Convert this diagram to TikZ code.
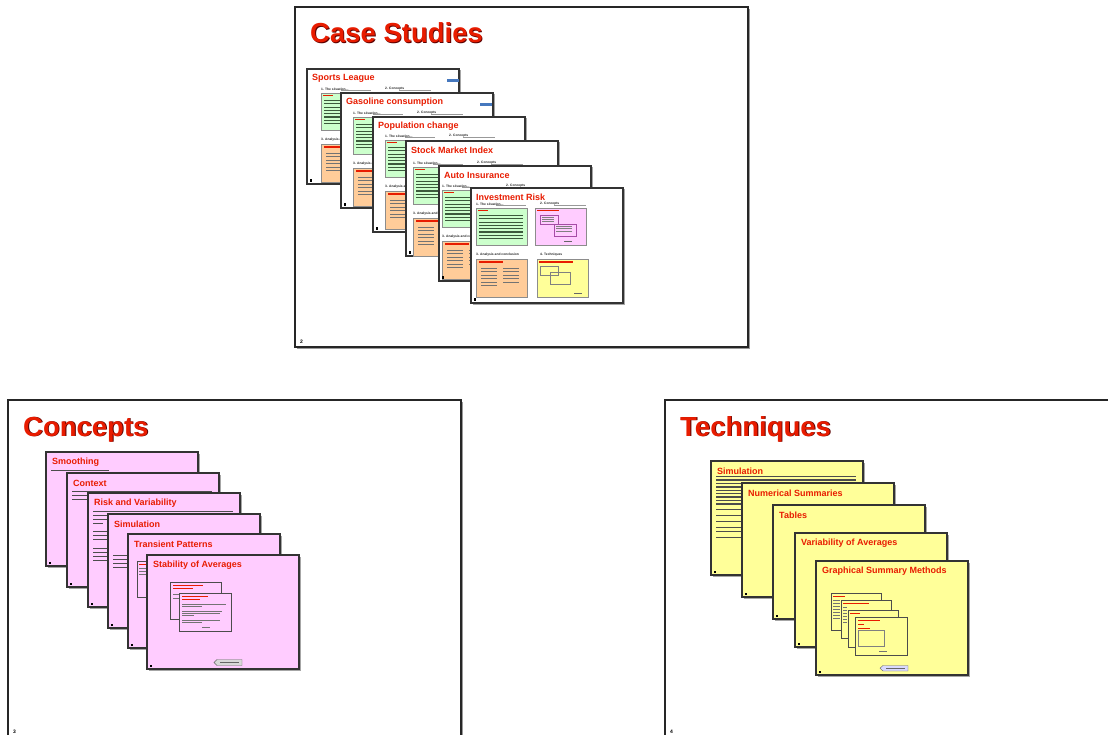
\documentclass[tikz,border=0pt]{standalone}
\usepackage{fontspec}
\setmainfont{Liberation Sans}
\definecolor{tred}{RGB}{232,28,0}
\definecolor{tshadow}{RGB}{90,0,0}
\definecolor{greenb}{RGB}{204,255,204}
\definecolor{pinkb}{RGB}{255,204,255}
\definecolor{orangeb}{RGB}{255,204,153}
\definecolor{yellowb}{RGB}{255,255,153}
\definecolor{blueb}{RGB}{70,120,190}
\definecolor{dgreen}{RGB}{60,90,60}
\tikzset{
  mainborder/.style={draw=black!85,line width=1.5pt},
  miniborder/.style={draw=black!80,line width=1.1pt},
  smallborder/.style={draw=black!70,line width=0.5pt},
  boxb/.style={draw=black!45,line width=0.4pt},
  maintitle/.style={anchor=base west,inner sep=0pt,text=tred,font=\fontsize{27.5}{30}\selectfont\bfseries},
  maintitleshadow/.style={anchor=base west,inner sep=0pt,text=tshadow,font=\fontsize{27.5}{30}\selectfont\bfseries},
  minititle/.style={anchor=west,inner sep=0pt,text=tred,font=\fontsize{9}{10}\selectfont\bfseries},
  lbl/.style={anchor=west,inner sep=0pt,text=black!85,font=\fontsize{3.3}{4}\selectfont\bfseries},
  numlbl/.style={anchor=base west,inner sep=0pt,font=\fontsize{5}{6}\selectfont\bfseries},
  txt/.style={fill=black!70},
}
\newcommand{\mainslide}[4]{%
  \fill[black!40] (#1+2,#2+2) rectangle ++(453,340);
  \draw[mainborder,fill=white] (#1,#2) rectangle ++(453,340);
  \node[maintitleshadow] (#4s) at (#1+15.9,#2+36.9) {#3};
  \node[maintitle] (#4) at (#1+15,#2+36) {#3};
}
\newcommand{\caseslide}[6]{%
 \begin{scope}[shift={(#1,#2)}]
  \fill[black!35] (1.5,1.5) rectangle (153.5,116.5);
  \draw[miniborder,fill=white] (0,0) rectangle (152,115);
  \node[minititle] (#4) at (5,9) {#3};
  \node[lbl] (#4a) at (#5,#6-4) {1. The situation...};
  \node[lbl] (#4b) at (#5+64,#6-4) {2. Concepts};
  \draw[black!40,line width=0.3pt] (#5+20,#6-3) -- (#5+50,#6-3);
  \draw[black!40,line width=0.3pt] (#5+78,#6-3) -- (#5+110,#6-3);
  % green
  \draw[boxb,fill=greenb] (#5,#6) rectangle ++(51,37);
  \fill[tred] (#5+2,#6+2.2) rectangle ++(10,1.3);
  \foreach \k in {0,...,7} \fill[dgreen] (#5+3,#6+7+\k*3.3) rectangle ++(44,1.2);
  % pink
  \draw[boxb,fill=pinkb] (#5+59,#6) rectangle ++(51,37);
  \fill[tred] (#5+61,#6+2.2) rectangle ++(22,1.3);
  \draw[draw=violet!70,line width=0.3pt] (#5+64,#6+7) rectangle ++(18,9);
  \draw[draw=violet!70,line width=0.3pt] (#5+78,#6+16) rectangle ++(22,12);
  \foreach \k in {0,1,2} \fill[black!50] (#5+66,#6+9+\k*2.2) rectangle ++(12,0.7);
  \foreach \k in {0,1,2} \fill[black!50] (#5+80,#6+18+\k*2.5) rectangle ++(16,0.7);
  \fill[black!60] (#5+88,#6+33) rectangle ++(8,1);
  % label lower left
  \node[lbl] (#4c) at (#5,#6+47) {3. Analysis and conclusion};
  % orange
  \draw[boxb,fill=orangeb] (#5,#6+51) rectangle ++(51,38);
  \fill[tred] (#5+3,#6+53.5) rectangle ++(24,1.3);
  \foreach \k in {0,...,5} \fill[black!55] (#5+5,#6+60+\k*3.4) rectangle ++(16,1);
  \foreach \k in {0,...,4} \fill[black!55] (#5+27,#6+60+\k*3.4) rectangle ++(16,1);
  % yellow
  \draw[boxb,fill=yellowb] (#5+61,#6+51) rectangle ++(51,38);
  \fill[tred] (#5+63,#6+53.5) rectangle ++(34,1.3);
  \draw[draw=black!50,line width=0.3pt] (#5+64,#6+58) rectangle ++(18,9);
  \draw[draw=black!50,line width=0.3pt] (#5+74,#6+64) rectangle ++(20,12);
  \fill[black!60] (#5+98,#6+85) rectangle ++(8,1);
  % number
  \fill[black] (3,110.5) rectangle ++(2,2.5);
 \end{scope}}
\newcommand{\plainslide}[5]{%
 \begin{scope}[shift={(#1,#2)}]
  \fill[black!35] (1.5,1.5) rectangle (153.5,115.5);
  \draw[miniborder,fill=#5] (0,0) rectangle (152,114);
  \node[minititle] (#4) at (6,10) {#3};
  \fill[black] (3,109.5) rectangle ++(2,2.5);
 \end{scope}}
\begin{document}
\begin{tikzpicture}[x=1pt,y=-1pt]
\useasboundingbox (0,0) rectangle (1108,735);
\fill[white] (0,0) rectangle (1108,735);

% ===== Case Studies =====
\mainslide{295}{7}{Case Studies}{cs}
\node[numlbl] (csn) at (300,343) {2};
\caseslide{307}{69}{Sports League}{s1}{14}{24}
\fill[blueb] (447,79.5) rectangle (459,82);
\caseslide{341}{93}{Gasoline consumption}{s2}{12}{24}
\fill[blueb] (480,103.5) rectangle (492,106);
\caseslide{373}{117}{Population change}{s3}{12}{23}
\caseslide{406}{141}{Stock Market Index}{s4}{7}{26}
\caseslide{439}{166}{Auto Insurance}{s5}{3}{24}
\caseslide{471}{188}{Investment Risk}{s6}{5}{20}
\node[lbl] (s6d) at (540,255) {4. Techniques};

% ===== Concepts =====
\mainslide{8}{400}{Concepts}{co}
\node[numlbl] (con) at (13,733) {3};
\plainslide{46}{452}{Smoothing}{c1}{pinkb}
\fill[txt] (51,469.5) rectangle ++(58,1.3);
\plainslide{67}{473}{Context}{c2}{pinkb}
\foreach \y/\w in {490.5/140,494.5/20,498.5/20} \fill[txt] (72,\y) rectangle ++(\w,1.3);
\plainslide{88}{493}{Risk and Variability}{c3}{pinkb}
\foreach \y/\w in {510.5/140,514.5/25,518.5/22,522.5/10,530.5/18,534.5/18,538.5/14,548/18,552/18,556/18,560/14} \fill[txt] (93,\y) rectangle ++(\w,1.3);
\plainslide{108}{514}{Simulation}{c4}{pinkb}
\foreach \y/\w in {555/18,559/18,563/18,567/14} \fill[txt] (113,\y) rectangle ++(\w,1.3);
\plainslide{128}{534}{Transient Patterns}{c5}{pinkb}
\draw[smallborder,fill=pinkb] (137,561) rectangle ++(51,36);
\fill[tred] (139,564) rectangle ++(8,1.2);
\foreach \y in {568,571,574} \fill[black!55] (139,\y) rectangle ++(7,1);
\plainslide{147}{555}{Stability of Averages}{c6}{pinkb}
\draw[smallborder,fill=pinkb] (170,582) rectangle ++(51,37);
\fill[tred] (173,585) rectangle ++(30,1.2);
\fill[tred] (173,588) rectangle ++(20,1.2);
\foreach \y in {594,598} \fill[black!55] (173,\y) rectangle ++(6,0.8);
\draw[smallborder,fill=pinkb] (179,593) rectangle ++(52,38);
\fill[tred] (182,596) rectangle ++(26,1.2);
\fill[tred] (182,599) rectangle ++(18,1.2);
\foreach \y/\w in {604/44,606/20,611/40,613/38,615/12,620/38,622/20} \fill[black!55] (182,\y) rectangle ++(\w,0.8);
\fill[black!55] (202,627) rectangle ++(8,0.8);
\draw[draw=black!60,fill=black!15,line width=0.4pt] (217,659.5) -- (242,659.5) -- (242,665.5) -- (217,665.5) -- (214,662.5) -- cycle;
\fill[black!60] (220,662) rectangle ++(19,1.2);

% ===== Techniques =====
\mainslide{665}{400}{Techniques}{te}
\node[numlbl] (ten) at (670,733) {4};
\plainslide{711}{461}{Simulation}{t1}{yellowb}
\foreach \k in {0,...,8} \fill[txt] (716,476+\k*3.4) rectangle ++(140,1.3);
\foreach \y in {509,515,521,527,531,537} \fill[txt] (716,\y) rectangle ++(30,1.3);
\plainslide{742}{483}{Numerical Summaries}{t2}{yellowb}
\plainslide{773}{505}{Tables}{t3}{yellowb}
\plainslide{795}{533}{Variability of Averages}{t4}{yellowb}
\plainslide{816}{561}{Graphical Summary Methods}{t5}{yellowb}
\draw[smallborder,fill=yellowb] (831,593) rectangle ++(50,37);
\fill[tred] (833,596) rectangle ++(12,1.2);
\foreach \k in {0,...,6} \fill[black!55] (833,600+\k*3) rectangle ++(7,0.9);
\draw[smallborder,fill=yellowb] (841,600) rectangle ++(50,38);
\fill[tred] (843,603) rectangle ++(26,1.2);
\foreach \k in {0,...,5} \fill[black!55] (843,607+\k*3) rectangle ++(4,0.9);
\draw[smallborder,fill=yellowb] (848,610) rectangle ++(50,37);
\fill[tred] (850,613) rectangle ++(10,1.2);
\draw[smallborder,fill=yellowb] (855,617) rectangle ++(52,38);
\fill[tred] (858,620) rectangle ++(22,1.2);
\fill[tred] (858,624) rectangle ++(6,1);
\fill[tred] (858,628) rectangle ++(12,1);
\draw[black!50,line width=0.3pt] (858,630) rectangle ++(26,16);
\fill[black!55] (879,651) rectangle ++(8,0.8);
\draw[draw=black!60,fill=blue!15,line width=0.4pt] (883,665.5) -- (908,665.5) -- (908,671) -- (883,671) -- (880,668.2) -- cycle;
\fill[black!60] (886,667.7) rectangle ++(19,1.2);
\end{tikzpicture}
\end{document}
